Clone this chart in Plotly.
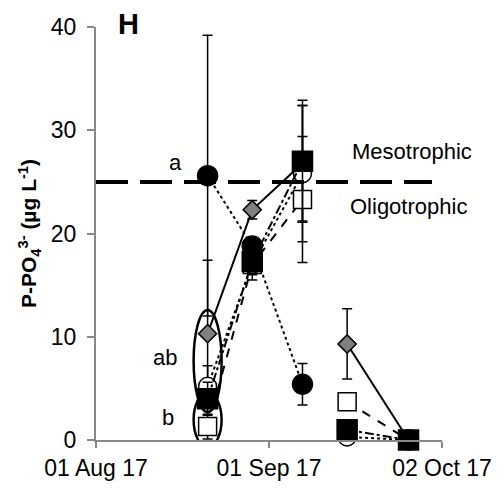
import plotly.graph_objects as go

# Sampling dates
dates = ["2017-08-21", "2017-08-29", "2017-09-07", "2017-09-15", "2017-09-26"]

# The line is interrupted between these two groups of dates
segments = [(0, 3), (3, 5)]

# P-PO4 concentration (µg/L) per treatment, with standard deviations
diamond_vals = [10.3, 22.3, 26.8, 9.3, 0.0]
diamond_err = [7.1, 0.9, 5.6, 3.4, 0.0]

black_circle_vals = [25.6, 18.8, 5.4, None, 0.0]
black_circle_err = [13.6, 0.6, 2.0, None, 0.0]

open_circle_vals = [5.2, 17.0, 25.8, 0.3, 0.0]
open_circle_err = [2.0, 1.5, 6.6, 0.3, 0.0]

black_square_vals = [4.0, 17.3, 27.0, 1.0, 0.0]
black_square_err = [1.6, 1.0, 5.9, 0.5, 0.0]

open_square_vals = [1.3, 17.0, 23.3, 3.7, 0.0]
open_square_err = [1.2, 1.0, 6.1, 0.8, 0.0]

# Trophic threshold
threshold = 25

# Axis ticks
x_tickvals = ["2017-08-01", "2017-09-01", "2017-10-02"]
x_ticktext = ["01 Aug 17", "01 Sep 17", "02 Oct 17"]
y_tickvals = [0, 10, 20, 30, 40]

FONT = "Liberation Sans, Arial, sans-serif"
AXIS_GREY = "#898989"

fig = go.Figure()


def add_series(vals, errs, symbol, size, fill, dash):
    # connecting lines, one trace per uninterrupted group of dates
    for start, stop in segments:
        fig.add_trace(go.Scatter(
            x=dates[start:stop], y=vals[start:stop],
            mode="lines",
            line=dict(color="black", width=2, dash=dash),
            cliponaxis=False, showlegend=False, hoverinfo="skip",
        ))
    # markers with error bars
    fig.add_trace(go.Scatter(
        x=dates, y=vals,
        mode="markers",
        marker=dict(symbol=symbol, size=size, color=fill,
                    line=dict(color="black", width=1.5)),
        error_y=dict(type="data", array=errs, visible=True,
                     color="black", thickness=1.5, width=5),
        cliponaxis=False,
        showlegend=False,
    ))


add_series(diamond_vals, diamond_err, "diamond", 14, "#808080", "solid")
add_series(black_circle_vals, black_circle_err, "circle", 20, "black", "dot")
add_series(open_square_vals, open_square_err, "square", 18, "white", "dash")
add_series(open_circle_vals, open_circle_err, "circle", 18, "white", "dot")
add_series(black_square_vals, black_square_err, "square", 20, "black", "dashdot")

shapes = [
    # Mesotrophic / oligotrophic boundary
    dict(type="line", xref="paper", yref="y", x0=0, x1=0.971,
         y0=threshold, y1=threshold,
         line=dict(color="black", width=4, dash="32px,12px")),
    # Groupings on the first sampling date
    dict(type="circle", xref="x", yref="y", xsizemode="pixel",
         xanchor=dates[0], x0=-14, x1=14, y0=2.7, y1=12.6,
         line=dict(color="black", width=2.5)),
    dict(type="circle", xref="x", yref="y", xsizemode="pixel",
         xanchor=dates[0], x0=-14, x1=14, y0=-0.7, y1=4.6,
         line=dict(color="black", width=2.5)),
]

label_font = dict(size=22, family=FONT, color="black")
annotations = [
    dict(text="<b>H</b>", xref="paper", yref="paper", x=0.094, y=1.008,
         xanchor="center", yanchor="middle", showarrow=False,
         font=dict(size=29, family=FONT, color="black")),
    dict(text="Mesotrophic", xref="paper", yref="y", x=0.912, y=27.95,
         xanchor="center", yanchor="middle", showarrow=False, font=label_font),
    dict(text="Oligotrophic", xref="paper", yref="y", x=0.903, y=22.6,
         xanchor="center", yanchor="middle", showarrow=False, font=label_font),
    dict(text="a", xref="x", yref="y", x=dates[0], y=black_circle_vals[0] + 1.3,
         xanchor="center", yanchor="middle", xshift=-32, showarrow=False,
         font=label_font),
    dict(text="ab", xref="x", yref="y", x=dates[0], y=8.0,
         xanchor="center", yanchor="middle", xshift=-43, showarrow=False,
         font=label_font),
    dict(text="b", xref="x", yref="y", x=dates[0], y=2.2,
         xanchor="center", yanchor="middle", xshift=-40, showarrow=False,
         font=label_font),
]

fig.update_layout(
    width=504, height=493,
    margin=dict(l=96, r=59, t=27, b=50),
    paper_bgcolor="white", plot_bgcolor="white",
    font=dict(family=FONT, color="black"),
    shapes=shapes,
    annotations=annotations,
    xaxis=dict(
        type="date",
        range=["2017-08-01", "2017-10-02"],
        tickvals=x_tickvals, ticktext=x_ticktext,
        ticks="outside", ticklen=6, tickwidth=1.5, tickcolor=AXIS_GREY,
        showline=True, linecolor=AXIS_GREY, linewidth=2,
        showgrid=False, zeroline=False,
        tickfont=dict(size=23, family=FONT, color="black"),
    ),
    yaxis=dict(
        range=[0, 40],
        tickvals=y_tickvals,
        ticks="outside", ticklen=7, tickwidth=1.5, tickcolor=AXIS_GREY,
        showline=True, linecolor=AXIS_GREY, linewidth=2,
        showgrid=False, zeroline=False,
        ticklabelstandoff=6,
        tickfont=dict(size=23, family=FONT, color="black"),
        title=dict(
            text="<b>P-PO<sub>4</sub><sup>3-</sup> (µg L<sup>-1</sup>)</b>",
            font=dict(size=21, family=FONT, color="black"),
            standoff=8,
        ),
    ),
)

fig.write_html("out.html")
